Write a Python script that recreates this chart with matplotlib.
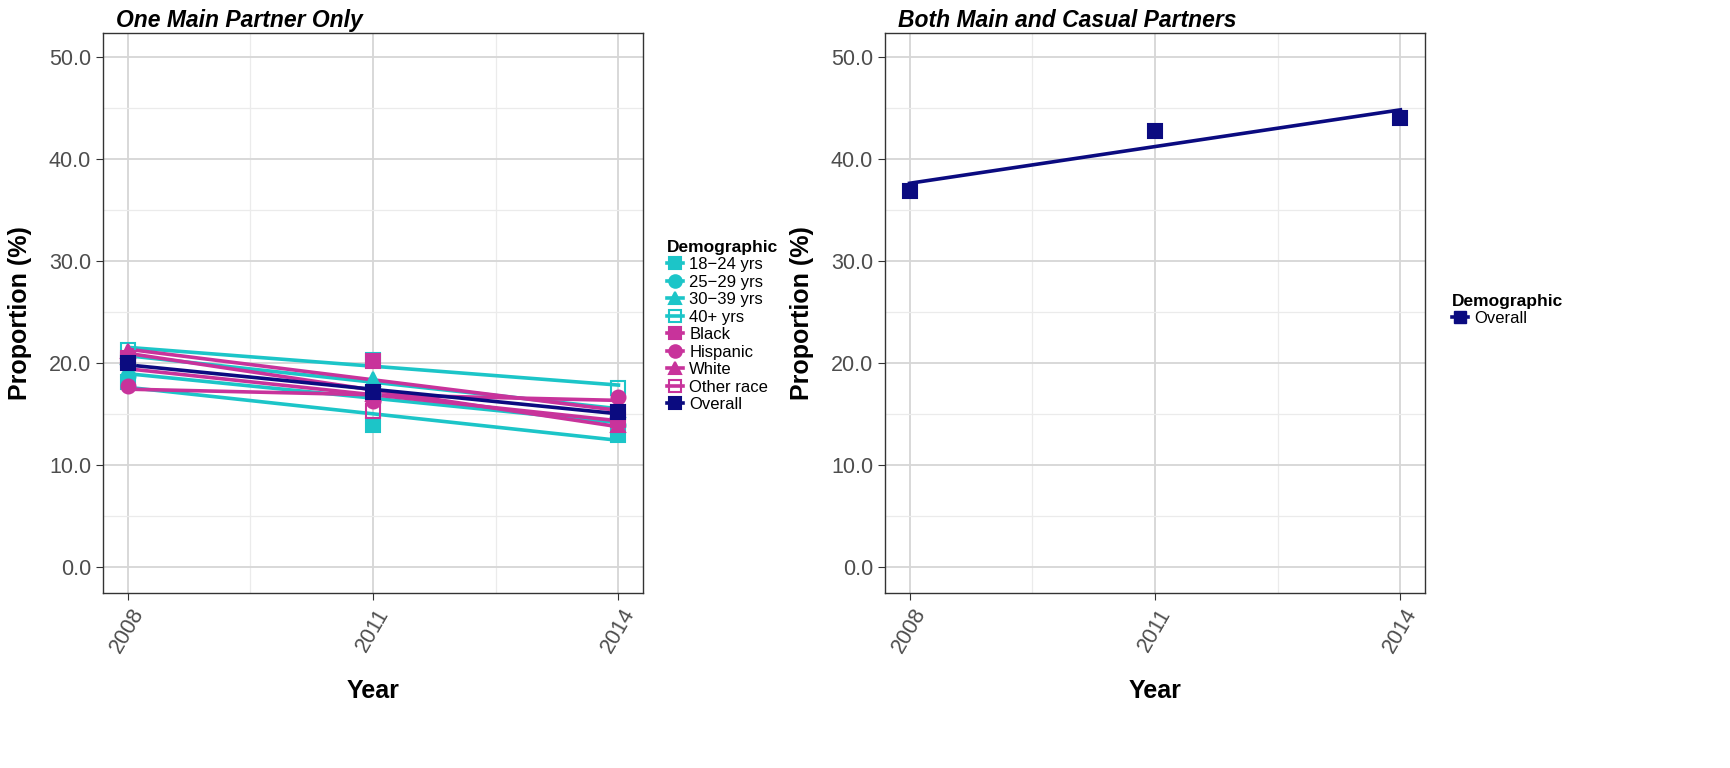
import numpy as np
import matplotlib
matplotlib.use('Agg')
import matplotlib.pyplot as plt
from matplotlib.lines import Line2D

plt.rcParams['font.family'] = ['Liberation Sans', 'DejaVu Sans']

years = [2008, 2011, 2014]

# one main partner only
groups = ['18\u221224 yrs', '25\u221229 yrs', '30\u221239 yrs', '40+ yrs',
          'Black', 'Hispanic', 'White', 'Other race', 'Overall']
vals_main = [
    [18.2, 14.0, 13.0],   # 18-24
    [18.8, 17.0, 14.0],   # 25-29
    [20.6, 18.5, 15.4],   # 30-39
    [21.3, 20.3, 17.6],   # 40+
    [20.5, 20.2, 14.5],   # Black
    [17.8, 16.3, 16.7],   # Hispanic
    [21.2, 17.0, 14.0],   # White
    [20.3, 15.3, 15.2],   # Other race
    [20.0, 17.2, 15.2],   # Overall
]
# both main and casual partners
vals_both = [36.9, 42.8, 44.1]

cyan = '#1cc5c8'
mag = '#c8339b'
navy = '#0b0b80'
colors = [cyan, cyan, cyan, cyan, mag, mag, mag, mag, navy]
markers = ['s', 'o', '^', 's', 's', 'o', '^', 's', 's']
filled = [True, True, True, False, True, True, True, False, True]

fig = plt.figure(figsize=(17.3, 7.68), dpi=100)
W, H = 1730, 768
ax1 = fig.add_axes([103 / W, 1 - 593 / H, 540 / W, 560 / H])
ax2 = fig.add_axes([885 / W, 1 - 593 / H, 540 / W, 560 / H])


def style(ax, title):
    ax.set_xlim(2007.7, 2014.3)
    ax.set_ylim(-2.5, 52.4)
    ax.set_xticks(years)
    ax.set_xticks([2009.5, 2012.5], minor=True)
    ax.set_yticks(np.arange(0, 51, 10))
    ax.set_yticks(np.arange(5, 51, 10), minor=True)
    ax.set_yticklabels(['%.1f' % v for v in np.arange(0, 51, 10)])
    ax.grid(which='major', color='#d6d6d6', lw=1.3)
    ax.grid(which='minor', color='#ebebeb', lw=0.9)
    ax.set_axisbelow(True)
    for s in ax.spines.values():
        s.set_color('#333333')
        s.set_linewidth(1.0)
    ax.tick_params(which='major', length=5, color='#333333', labelsize=15.5,
                   labelcolor='#4d4d4d')
    ax.tick_params(which='minor', length=0)
    for lab in ax.get_xticklabels():
        lab.set_rotation(60)
        lab.set_ha('center')
        lab.set_va('top')
    ax.set_xlabel('Year', fontsize=18, fontweight='bold', labelpad=16)
    ax.set_ylabel('Proportion (%)', fontsize=18, fontweight='bold', labelpad=12)
    ax.set_title(title, fontsize=16.5, fontweight='bold', style='italic',
                 loc='left', x=0.025, pad=4)


def draw(ax, y, c, m, f):
    y = np.array(y)
    x = np.array(years)
    k, b = np.polyfit(x, y, 1)  # linear trend, like geom_smooth(method='lm')
    ax.plot(x, k * x + b, color=c, lw=2.6, zorder=3)
    ax.plot(x, y, ls='none', marker=m, ms=10, color=c,
            mfc=c if f else 'none', mew=1.5, zorder=4)


handles = []
for g, y, c, m, f in zip(groups, vals_main, colors, markers, filled):
    draw(ax1, y, c, m, f)
    handles.append(Line2D([], [], color=c, lw=2.6, marker=m, ms=9,
                          mfc=c if f else 'none', mew=1.5, label=g))
style(ax1, 'One Main Partner Only')

draw(ax2, vals_both, navy, 's', True)
style(ax2, 'Both Main and Casual Partners')

leg_kw = dict(frameon=False, fontsize=12, handlelength=1.0, handletextpad=0.35,
              labelspacing=0.15, title='Demographic', alignment='left',
              borderaxespad=0)
leg1 = ax1.legend(handles=handles, loc='upper left',
                  bbox_to_anchor=(660 / W, 1 - 233 / H),
                  bbox_transform=fig.transFigure, **leg_kw)
leg1.get_title().set_fontweight('bold')
leg1.get_title().set_fontsize(12.5)

h2 = [Line2D([], [], color=navy, lw=2.6, marker='s', ms=9, label='Overall')]
leg2 = ax2.legend(handles=h2, loc='upper left',
                  bbox_to_anchor=(1445 / W, 1 - 287 / H),
                  bbox_transform=fig.transFigure, **leg_kw)
leg2.get_title().set_fontweight('bold')
leg2.get_title().set_fontsize(12.5)

fig.savefig('out.png', dpi=100, facecolor='white')
